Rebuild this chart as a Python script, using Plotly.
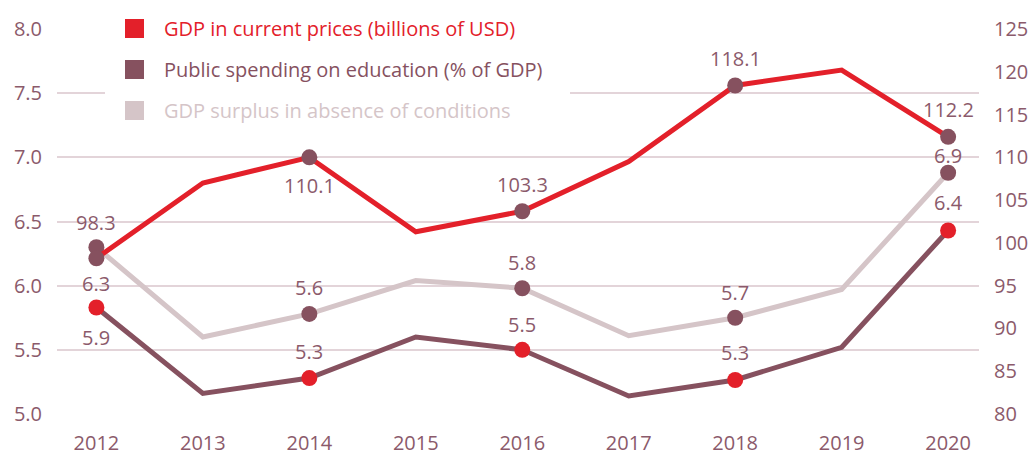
import plotly.graph_objects as go

# ---------------- data ----------------
years = [2012, 2013, 2014, 2015, 2016, 2017, 2018, 2019, 2020]
gdp_current = [98.2, 107.0, 110.0, 101.3, 103.7, 109.5, 118.4, 120.2, 112.4]      # right axis
edu_spending = [5.83, 5.16, 5.28, 5.60, 5.50, 5.14, 5.265, 5.52, 6.43]            # left axis
gdp_surplus = [6.30, 5.60, 5.78, 6.04, 5.98, 5.61, 5.75, 5.97, 6.88]             # left axis

marked_years = [2012, 2014, 2016, 2018, 2020]
gdp_labels = ["98.3", "110.1", "103.3", "118.1", "112.2"]
edu_labels = ["5.9", "5.3", "5.5", "5.3", "6.4"]
surplus_labels = ["6.3", "5.6", "5.8", "5.7", "6.9"]

series_names = [
    "GDP in current prices (billions of USD)",
    "Public spending on education (% of GDP)",
    "GDP surplus in absence of conditions",
]
x_tick_labels = [str(y) for y in years]

# ---------------- styles ----------------
RED = "#E3202A"
PURPLE = "#86515F"
PINK = "#D5C5C8"
TEXT = "#8B5A6B"
GRID = "#E3D4D9"
FONT = "Open Sans"
FS = 20

# label pixel offsets (+ up)
gdp_shift = [36, -28, 27, 27, 27]
edu_shift = [-30, 27, 25, 27, 28]
surplus_shift = [-36, 26, 26, 25, 17]

W, H = 1032, 457
L, R, T, B = 57, 53, 29, 43
PW, PH = W - L - R, H - T - B


def px(xp):
    return (xp - L) / PW


def py(yp):
    return (H - B - yp) / PH


def pick(vals):
    return [vals[years.index(y)] for y in marked_years]


fig = go.Figure()

# lines
fig.add_trace(go.Scatter(x=years, y=gdp_current, yaxis="y2", mode="lines",
                         line=dict(color=RED, width=5), name=series_names[0],
                         showlegend=False, hoverinfo="skip"))
fig.add_trace(go.Scatter(x=years, y=edu_spending, mode="lines",
                         line=dict(color=PURPLE, width=5), name=series_names[1],
                         showlegend=False, hoverinfo="skip"))
fig.add_trace(go.Scatter(x=years, y=gdp_surplus, mode="lines",
                         line=dict(color=PINK, width=5), name=series_names[2],
                         showlegend=False, hoverinfo="skip"))

# markers
fig.add_trace(go.Scatter(x=marked_years, y=pick(gdp_current), yaxis="y2", mode="markers",
                         marker=dict(color=PURPLE, size=16), showlegend=False,
                         hoverinfo="skip"))
fig.add_trace(go.Scatter(x=marked_years, y=pick(edu_spending), mode="markers",
                         marker=dict(color=RED, size=16), showlegend=False,
                         hoverinfo="skip"))
fig.add_trace(go.Scatter(x=marked_years, y=pick(gdp_surplus), mode="markers",
                         marker=dict(color=PURPLE, size=16), showlegend=False,
                         hoverinfo="skip"))

annotations = []
for xs, ys, labs, shifts, yref in [
    (marked_years, pick(gdp_current), gdp_labels, gdp_shift, "y2"),
    (marked_years, pick(edu_spending), edu_labels, edu_shift, "y"),
    (marked_years, pick(gdp_surplus), surplus_labels, surplus_shift, "y"),
]:
    for xv, yv, lab, sh in zip(xs, ys, labs, shifts):
        annotations.append(dict(x=xv, y=yv, xref="x", yref=yref, text=lab,
                                showarrow=False, yshift=sh, xanchor="center",
                                yanchor="middle",
                                font=dict(family=FONT, size=FS, color=TEXT)))

# custom legend
shapes = [dict(type="rect", xref="paper", yref="paper", x0=px(105), x1=px(570),
               y0=py(0), y1=py(135), fillcolor="white", line=dict(width=0),
               layer="above")]
legend_colors = [RED, PURPLE, PINK]
row_y = [28.5, 69.5, 110.5]
for name, col, ry in zip(series_names, legend_colors, row_y):
    shapes.append(dict(type="rect", xref="paper", yref="paper", x0=px(125), x1=px(144),
                       y0=py(ry + 9.5), y1=py(ry - 9.5), fillcolor=col,
                       line=dict(width=0), layer="above"))
    annotations.append(dict(x=px(162), y=py(ry), xref="paper", yref="paper", text=name,
                            showarrow=False, xanchor="left", yanchor="middle",
                            font=dict(family=FONT, size=FS, color=col)))

fig.update_layout(
    width=W, height=H,
    margin=dict(l=L, r=R, t=T, b=B, pad=0),
    paper_bgcolor="white", plot_bgcolor="white",
    font=dict(family=FONT, size=FS, color=TEXT),
    showlegend=False,
    xaxis=dict(range=[2011.63, 2020.29], tickvals=years, ticktext=x_tick_labels,
               showgrid=False, zeroline=False, showline=False, ticks="",
               automargin=False,
               ticklabelstandoff=15, tickfont=dict(size=FS, color=TEXT)),
    yaxis=dict(range=[5, 8], dtick=0.5, tickformat=".1f", showgrid=True,
               gridcolor=GRID, gridwidth=1.5, zeroline=False, showline=False,
               automargin=False,
               ticks="", ticklabelstandoff=14, tickfont=dict(size=FS, color=TEXT)),
    yaxis2=dict(range=[80, 125], dtick=5, overlaying="y", side="right",
                showgrid=False, zeroline=False, showline=False, ticks="",
                automargin=False,
                ticklabelstandoff=14, tickfont=dict(size=FS, color=TEXT)),
    shapes=shapes,
    annotations=annotations,
)

fig.write_html(
    "out.html",
    config={"displayModeBar": False},
    post_script="document.body.style.margin='0';document.body.style.overflow='hidden';",
)
